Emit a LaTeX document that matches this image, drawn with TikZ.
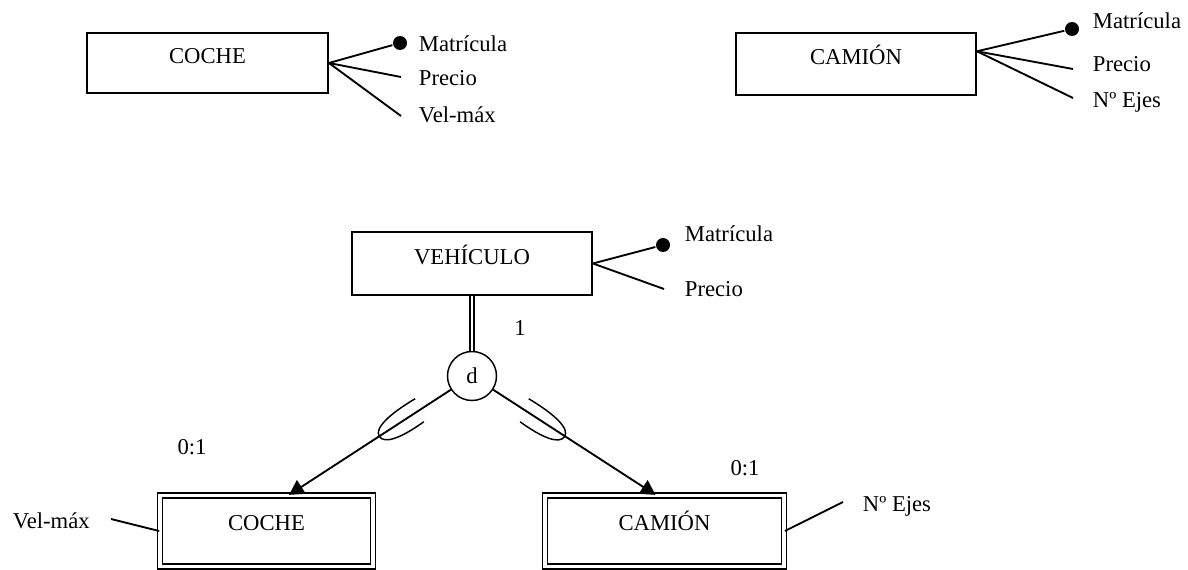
\documentclass[tikz,border=0pt]{standalone}
\usepackage{fontspec}
\setmainfont{Liberation Serif}
\usetikzlibrary{arrows.meta,calc}

\begin{document}
\begin{tikzpicture}[x=0.75pt,y=-0.75pt,line width=1.4pt,
	font=\fontsize{17}{20}\selectfont,
	entidad/.style={draw,inner sep=0pt,text height=0.66em,text depth=0.57em},
	debil/.style={draw,double,double distance=2.4pt,line width=1.3pt,inner sep=0pt,text height=0.66em,text depth=0.8em},
	atrib/.style={anchor=west,inner sep=0pt,text height=0.7em,text depth=0em,yshift=-3pt},
	clave/.style={circle,fill,inner sep=0pt,minimum size=10.5pt},
	flecha/.style={-{Triangle[length=11pt,width=12pt]}},
	subconj/.style={line width=1.1pt,shift={(d.center)}}]
	\clip (0,0) rectangle (1188,570);
	% COCHE arriba
	\node[entidad,minimum width=180.75pt,minimum height=45pt] (coche1) at (207.5,63) {COCHE};
	\node[clave] (k1) at (400,43) {};
	\coordinate (c1p) at (401,77);
	\coordinate (c1v) at (401,116);
	\draw (coche1.east) -- (k1);
	\draw (coche1.east) -- (c1p);
	\draw (coche1.east) -- (c1v);
	\node[atrib] (matr1) at (418,43) {Matrícula};
	\node[atrib] (precio1) at (418,77) {Precio};
	\node[atrib] (velmax1) at (418,114) {Vel-máx};
	% CAMION arriba
	\node[entidad,minimum width=180pt,minimum height=46.5pt] (camion1) at (856,64) {CAMIÓN};
	\node[clave] (k2) at (1072,29) {};
	\coordinate (c2p) at (1073,69);
	\coordinate (c2e) at (1073,98);
	\draw (camion1.6) -- (k2);
	\draw (camion1.6) -- (c2p);
	\draw (camion1.6) -- (c2e);
	\node[atrib] (matr2) at (1092,20) {Matrícula};
	\node[atrib] (precio2) at (1092,63) {Precio};
	\node[atrib] (ejes1) at (1092,99) {Nº Ejes};
	% VEHICULO
	\node[entidad,minimum width=180pt,minimum height=47.25pt] (vehiculo) at (472,263.5) {VEHÍCULO};
	\node[clave] (k3) at (663,245) {};
	\coordinate (c3p) at (664,289);
	\draw (vehiculo.east) -- (k3);
	\draw (vehiculo.east) -- (c3p);
	\node[atrib] (matr3) at (684,233) {Matrícula};
	\node[atrib] (precio3) at (684,288) {Precio};
	% jerarquia
	\node[circle,draw,line width=1.1pt,minimum size=36.75pt,inner sep=0pt] (d) at (472,376) {d};
	\draw[double,double distance=2.2pt,line width=0.8pt] (vehiculo.south) -- (d.north);
	\node (uno) at (520,328) {1};
	\node[debil,minimum width=159.75pt,minimum height=52.9pt] (coche2) at (266.5,531) {COCHE};
	\node[debil,minimum width=179.25pt,minimum height=52.9pt] (camion2) at (664.5,531) {CAMIÓN};
	\draw[flecha] (d) -- (coche2.58);
	\draw[flecha] (d) -- (camion2.104);
	\draw[subconj,rotate=213.1] (45pt,-9pt) .. controls (68pt,-10pt) and (83pt,-7pt) .. (83pt,0pt) .. controls (83pt,7pt) and (70pt,10pt) .. (49pt,9pt);
	\draw[subconj,rotate=-33.2] (45pt,9pt) .. controls (68pt,10pt) and (83pt,7pt) .. (83pt,0pt) .. controls (83pt,-7pt) and (70pt,-10pt) .. (49pt,-9pt);
	\node (cero1) at (192,447) {0:1};
	\node (cero2) at (745,468) {0:1};
	% atributos propios
	\coordinate (c4v) at (111,519);
	\coordinate (c5e) at (843,502);
	\draw (coche2.west) -- (c4v);
	\draw (camion2.east) -- (c5e);
	\node[atrib] (velmax2) at (12,520) {Vel-máx};
	\node[atrib] (ejes2) at (862,503) {Nº Ejes};
\end{tikzpicture}
\end{document}
